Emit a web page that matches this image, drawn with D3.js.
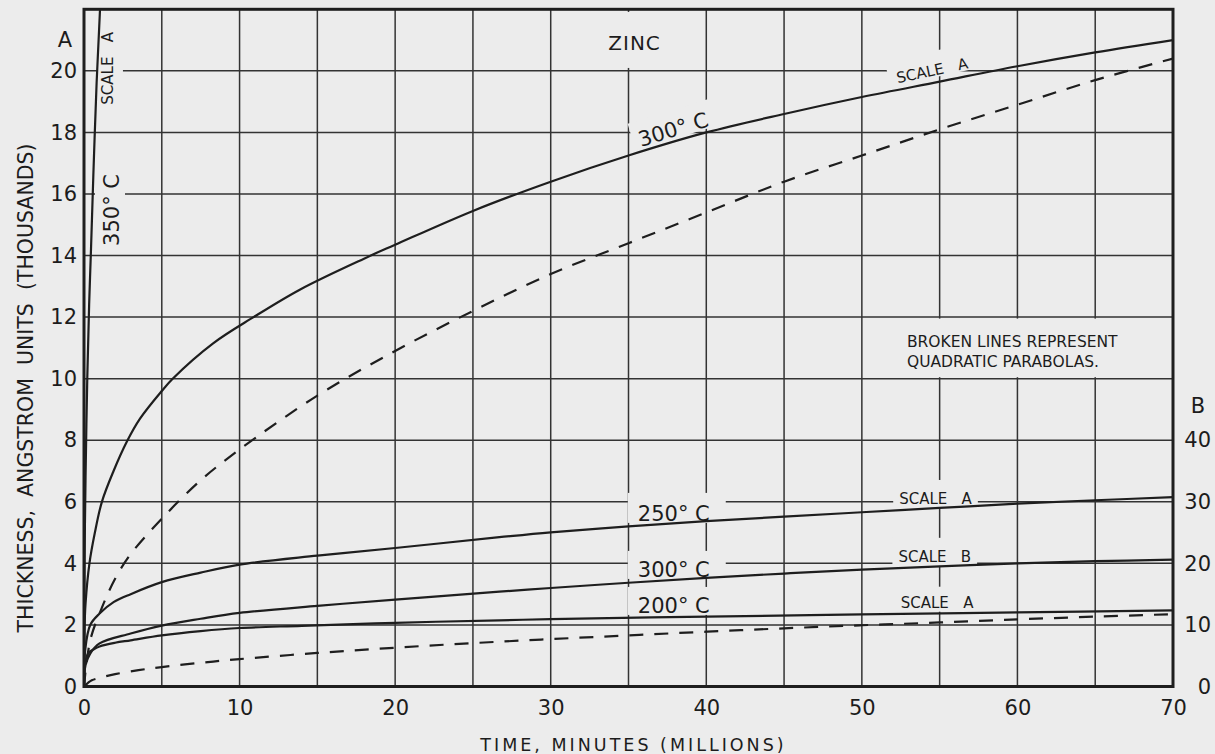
<!DOCTYPE html>
<html>
<head>
<meta charset="utf-8">
<script src="https://cdn.jsdelivr.net/npm/d3@7"></script>
<style>
  html, body { margin: 0; padding: 0; background: #ececec; }
  svg { display: block; }
  text { font-family: "DejaVu Sans", sans-serif; fill: #1c1c1c; }
</style>
</head>
<body>
<svg id="chart" width="1215" height="754"></svg>
<script>
// Oxide film growth on zinc: thickness (thousands of angstrom units) against
// time (millions of minutes). Solid lines are measured curves, broken lines
// are quadratic parabolas. The 300 °C "scale B" curve is read on the right axis.

const xTicks  = [0, 10, 20, 30, 40, 50, 60, 70];
const xGrid   = [5, 10, 15, 20, 25, 30, 35, 40, 45, 50, 55, 60, 65];
const yTicksA = [0, 2, 4, 6, 8, 10, 12, 14, 16, 18, 20];
const yGrid   = [2, 4, 6, 8, 10, 12, 14, 16, 18, 20];
const yTicksB = [0, 10, 20, 30, 40];

// 350 °C, scale A
const time350  = [0, 0.02, 0.05, 0.1, 0.21, 0.33, 0.45, 0.6, 0.81, 0.92, 1.03];
const thick350 = [0, 3.0, 4.8, 6.8, 10.0, 12.4, 14.2, 16.6, 19.6, 20.8, 22.0];

// 300 °C, scale A
const time300A  = [0, 0.03, 0.1, 0.35, 0.7, 1.15, 1.9, 2.75, 3.6, 5, 5.7, 8.3, 10.9, 13.9, 18, 20, 25, 30, 35, 40, 45, 50, 55, 60, 65, 70];
const thick300A = [0, 1.8, 2.7, 4.0, 5.0, 6.0, 7.0, 7.95, 8.7, 9.6, 10.0, 11.15, 12.0, 12.9, 13.9, 14.35, 15.45, 16.4, 17.25, 18.0, 18.6, 19.15, 19.65, 20.15, 20.6, 21.0];

// 300 °C parabola, scale A (broken)
const time300P  = [0, 0.4, 1.1, 2, 3, 5, 7.5, 10, 15, 20, 25, 30, 35, 40, 45, 50, 55, 60, 65, 70];
const thick300P = [0, 1.5, 2.5, 3.5, 4.3, 5.45, 6.7, 7.7, 9.45, 10.9, 12.2, 13.4, 14.4, 15.4, 16.4, 17.25, 18.1, 18.9, 19.7, 20.4];

// 250 °C, scale A
const time250  = [0, 0.07, 0.4, 1, 1.9, 3, 5, 7.5, 10, 15, 20, 26.7, 30, 35, 40, 45, 50, 55, 60, 65, 70];
const thick250 = [0, 1.15, 2.0, 2.37, 2.74, 3.0, 3.39, 3.7, 3.96, 4.25, 4.5, 4.85, 5.01, 5.2, 5.37, 5.52, 5.66, 5.8, 5.94, 6.05, 6.15];

// 300 °C, scale B
const time300B  = [0, 0.1, 0.4, 1, 3, 5, 7.5, 10, 15, 20, 26.7, 30, 35, 40, 45, 50, 55, 60, 65, 70];
const thick300B = [0, 3.5, 5.35, 7.0, 8.6, 9.9, 11.0, 11.95, 13.1, 14.1, 15.4, 16.0, 16.85, 17.65, 18.35, 19.0, 19.5, 20.0, 20.35, 20.6];

// 200 °C, scale A
const time200  = [0, 0.03, 0.1, 0.3, 0.6, 1, 2, 3, 5, 7.5, 10, 14, 20, 26.7, 30, 40, 50, 60, 70];
const thick200 = [0, 0.6, 0.85, 1.1, 1.2, 1.3, 1.42, 1.5, 1.66, 1.8, 1.9, 1.97, 2.07, 2.15, 2.19, 2.27, 2.34, 2.41, 2.47];

// 200 °C parabola, scale A (broken)
const time200P  = [0, 0.5, 1, 2, 3.5, 5, 7.5, 10, 15, 20, 25, 30, 35, 40, 45, 50, 55, 60, 65, 70];
const thick200P = [0, 0.2, 0.28, 0.4, 0.53, 0.63, 0.77, 0.89, 1.09, 1.26, 1.41, 1.54, 1.66, 1.78, 1.89, 1.99, 2.08, 2.18, 2.27, 2.35];

const BG = "#ececec";
const INK = "#1e1e1e";

const svg = d3.select("#chart");
const plotLeft = 84, plotRight = 1173, plotTop = 9.3, plotBottom = 686.5;

const x  = d3.scaleLinear().domain([0, 70]).range([plotLeft, plotRight]);
const yA = d3.scaleLinear().domain([0, 22]).range([plotBottom, plotTop]);
const yB = d3.scaleLinear().domain([0, 110]).range([plotBottom, plotTop]);

svg.append("rect").attr("width", 1215).attr("height", 754).attr("fill", BG);

svg.append("defs").append("clipPath").attr("id", "plot")
  .append("rect").attr("x", plotLeft).attr("y", plotTop)
  .attr("width", plotRight - plotLeft).attr("height", plotBottom - plotTop);

// grid
const grid = svg.append("g").attr("stroke", "#333").attr("stroke-width", 1.5);
grid.selectAll("line.v").data(xGrid).join("line").attr("class", "v")
  .attr("x1", d => x(d)).attr("x2", d => x(d))
  .attr("y1", plotTop).attr("y2", plotBottom);
grid.selectAll("line.h").data(yGrid).join("line").attr("class", "h")
  .attr("x1", plotLeft).attr("x2", plotRight)
  .attr("y1", d => yA(d)).attr("y2", d => yA(d));

const knock = svg.append("g").attr("fill", BG);
const curves = svg.append("g").attr("clip-path", "url(#plot)")
  .attr("fill", "none").attr("stroke", INK).attr("stroke-width", 2.2)
  .attr("stroke-linecap", "round");
const labels = svg.append("g");

// knock-out panel behind the note
knock.append("rect")
  .attr("x", x(50) + 1.5).attr("y", yA(12) + 1.5)
  .attr("width", x(70) - x(50) - 3).attr("height", yA(10) - yA(12) - 3);

const smooth = d3.curveCatmullRom.alpha(0.5);
function lineA(ts, vs) {
  return d3.line().x(d => x(d[0])).y(d => yA(d[1])).curve(smooth)(d3.zip(ts, vs));
}
function lineB(ts, vs) {
  return d3.line().x(d => x(d[0])).y(d => yB(d[1])).curve(smooth)(d3.zip(ts, vs));
}

curves.append("path").attr("d", lineA(time350, thick350));
curves.append("path").attr("d", lineA(time300A, thick300A));
curves.append("path").attr("d", lineA(time250, thick250));
curves.append("path").attr("d", lineB(time300B, thick300B));
curves.append("path").attr("d", lineA(time200, thick200));
curves.append("path").attr("d", lineA(time300P, thick300P)).attr("stroke-dasharray", "14 11").attr("stroke-linecap", "butt");
curves.append("path").attr("d", lineA(time200P, thick200P)).attr("stroke-dasharray", "14 11").attr("stroke-linecap", "butt");

// frame
svg.append("rect").attr("x", plotLeft).attr("y", plotTop)
  .attr("width", plotRight - plotLeft).attr("height", plotBottom - plotTop)
  .attr("fill", "none").attr("stroke", INK).attr("stroke-width", 3);

// in-plot labels, each with a knock-out behind it
function label(s) {
  const tr = `translate(${x(s.t)},${yA(s.v)}) rotate(${s.rot || 0})`;
  const t = labels.append("text").attr("transform", tr)
    .attr("text-anchor", s.anchor || "start")
    .style("font-size", s.size + "px")
    .style("letter-spacing", (s.ls || 0) + "px")
    .style("white-space", "pre")
    .text(s.text);
  const w = t.node().getComputedTextLength();
  const x0 = s.anchor === "middle" ? -w / 2 : 0;
  const p = s.pad;
  knock.append("rect").attr("transform", tr)
    .attr("x", x0 - p[0]).attr("y", -p[1])
    .attr("width", w + p[0] + p[2]).attr("height", p[1] + p[3]);
}

const labelSpecs = [
  { text: "ZINC", t: 33.7, v: 20.68, size: 20, ls: 1, pad: [18, 38, 18, 18] },
  { text: "SCALE   A", t: 1.86, v: 20.08, size: 15, rot: -90, anchor: "middle", pad: [8, 15, 8, 10] },
  { text: "350° C", t: 2.25, v: 15.48, size: 21, rot: -90, anchor: "middle", pad: [8, 24, 8, 6] },
  { text: "300° C", t: 35.8, v: 17.53, size: 21, rot: -17, pad: [6, 26, 10, 2] },
  { text: "SCALE   A", t: 52.3, v: 19.6, size: 15, rot: -12, pad: [8, 24, 8, 2] },
  { text: "250° C", t: 35.6, v: 5.38, size: 21, pad: [10, 28, 16, 2] },
  { text: "300° C", t: 35.6, v: 3.56, size: 21, pad: [10, 26, 16, 2] },
  { text: "200° C", t: 35.6, v: 2.39, size: 21, pad: [10, 26, 16, 2] },
  { text: "SCALE   A", t: 52.4, v: 5.93, size: 15, pad: [6, 24, 6, 4] },
  { text: "SCALE   B", t: 52.35, v: 4.05, size: 15, pad: [6, 24, 6, 4] },
  { text: "SCALE   A", t: 52.5, v: 2.56, size: 15, pad: [6, 21, 6, 4] }
];
labelSpecs.forEach(label);

labels.append("text").attr("x", x(52.9)).attr("y", yA(11.04))
  .style("font-size", "15.5px").text("BROKEN LINES REPRESENT");
labels.append("text").attr("x", x(52.9)).attr("y", yA(10.39))
  .style("font-size", "15.5px").text("QUADRATIC PARABOLAS.");

// axes
function styleAxis(g) {
  g.select(".domain").remove();
  g.attr("font-family", null).attr("font-size", null);
  g.selectAll("text").style("font-size", "21px").attr("fill", "#1c1c1c");
}

svg.append("g").attr("transform", `translate(0,${plotBottom})`)
  .call(d3.axisBottom(x).tickValues(xTicks).tickSize(0).tickPadding(14))
  .call(styleAxis);

svg.append("g").attr("transform", `translate(${plotLeft},0)`)
  .call(d3.axisLeft(yA).tickValues(yTicksA).tickSize(0).tickPadding(7))
  .call(styleAxis);

svg.append("g").attr("transform", `translate(${plotRight},0)`)
  .call(d3.axisRight(yB).tickValues(yTicksB).tickSize(0))
  .call(styleAxis)
  .call(g => g.selectAll("text").attr("text-anchor", "end").attr("x", 38));

svg.append("text").attr("x", 65).attr("y", 47).attr("text-anchor", "middle")
  .style("font-size", "21px").text("A");
svg.append("text").attr("x", 1198).attr("y", 413).attr("text-anchor", "middle")
  .style("font-size", "21px").text("B");

svg.append("text")
  .attr("transform", `translate(33,388) rotate(-90)`)
  .attr("text-anchor", "middle")
  .style("font-size", "20.5px")
  .style("white-space", "pre")
  .text("THICKNESS,  ANGSTROM  UNITS  (THOUSANDS)");

svg.append("text")
  .attr("x", (plotLeft + plotRight) / 2 + 5).attr("y", 750.5)
  .attr("text-anchor", "middle")
  .style("font-size", "17.5px").style("letter-spacing", "3px")
  .text("TIME, MINUTES (MILLIONS)");
</script>
</body>
</html>
